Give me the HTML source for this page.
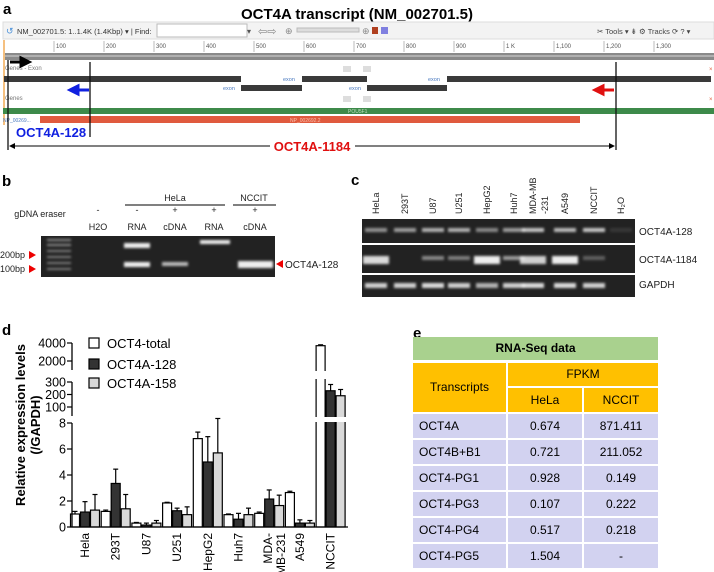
<!DOCTYPE html>
<html><head><meta charset="utf-8"><style>
body{margin:0;background:#fff;font-family:"Liberation Sans",sans-serif}
#root{position:relative;width:714px;height:572px;overflow:hidden}
.abs{position:absolute}
svg text{font-family:"Liberation Sans",sans-serif}
</style></head><body>
<div id="root">
<svg width="714" height="572" style="position:absolute;left:0;top:0">
<defs>
<filter id="bl" x="-20%" y="-50%" width="140%" height="200%"><feGaussianBlur stdDeviation="1.3"/></filter>
</defs>
<!-- Panel a -->
<g>
<text x="3" y="14" font-size="15" font-weight="bold">a</text>
<text x="357" y="19" font-size="15" font-weight="bold" text-anchor="middle">OCT4A transcript (NM_002701.5)</text>
<rect x="3" y="22" width="711" height="17" fill="#f3f3f3" stroke="#ddd"/>
<text x="17" y="34" font-size="7.5" fill="#333">NM_002701.5: 1..1.4K (1.4Kbp) ▾ | Find:</text>
<text x="6" y="34" font-size="9" fill="#4a90d9">↺</text>
<rect x="157" y="24" width="90" height="13" fill="#fff" stroke="#bbb"/>
<text x="247" y="34" font-size="8" fill="#555">▾</text>
<text x="258" y="35" font-size="11" fill="#888">⇦⇨</text>
<text x="285" y="34" font-size="9" fill="#888">⊕</text>
<rect x="297" y="28" width="62" height="4" fill="#ddd" stroke="#bbb"/>
<text x="362" y="34" font-size="9" fill="#888">⊕</text>
<rect x="372" y="27" width="6" height="7" fill="#b04020"/><rect x="381" y="27" width="7" height="7" fill="#8080e0"/>
<text x="597" y="34" font-size="7.5" fill="#444">✂ Tools ▾ ⇟ ⚙ Tracks ⟳ ? ▾</text>
<rect x="3" y="40" width="711" height="13" fill="#fff"/>
<g id="ruler" font-size="6" fill="#555"></g>
<rect x="3" y="53" width="711" height="7" fill="#8a8a8a"/>
<rect x="3" y="55" width="711" height="2" fill="#b0b0b0"/>
<rect x="3" y="40" width="2" height="85" fill="#f5c080"/>
<text x="5" y="70" font-size="6" fill="#777" font-family="Liberation Mono">Genes - Exon</text>
<text x="5" y="100" font-size="6" fill="#777" font-family="Liberation Mono">Genes</text>
<rect x="343" y="66" width="8" height="6" fill="#ddd"/><rect x="363" y="66" width="8" height="6" fill="#ddd"/>
<rect x="343" y="96" width="8" height="6" fill="#ddd"/><rect x="363" y="96" width="8" height="6" fill="#ddd"/>
<text x="709" y="71" font-size="6" fill="#e06040">×</text><text x="709" y="101" font-size="6" fill="#e06040">×</text>
<g fill="#3a3a3a">
<rect x="4" y="76" width="237" height="6"/><rect x="302" y="76" width="65" height="6"/><rect x="447" y="76" width="264" height="6"/>
<rect x="241" y="85" width="61" height="6"/><rect x="367" y="85" width="80" height="6"/>
</g>
<g font-size="5.5" fill="#4a7ac0"><text x="283" y="81">exon</text><text x="428" y="81">exon</text><text x="223" y="90">exon</text><text x="349" y="90">exon</text></g>
<rect x="3" y="108" width="711" height="6" fill="#3d8a4a"/>
<text x="348" y="113" font-size="5" fill="#bfe0c0">POU5F1</text>
<rect x="40" y="116" width="540" height="7" fill="#e05a3e"/>
<text x="290" y="122" font-size="5" fill="#f8c0b0">NP_002692.2</text>
<text x="3" y="122" font-size="5" fill="#4a7ac0">NP_00269...</text>
<g stroke="#111" stroke-width="1.3">
<line x1="8" y1="60" x2="8" y2="150"/><line x1="90" y1="62" x2="90" y2="137"/><line x1="616" y1="62" x2="616" y2="150"/>
</g>
<path d="M10 62 H24 M21 58 L29 62 L21 66 Z" stroke="#000" stroke-width="3" fill="#000"/>
<path d="M89 90 H75 M78 86 L70 90 L78 94 Z" stroke="#1020e0" stroke-width="3" fill="#1020e0"/>
<path d="M614 90 H600 M603 86 L595 90 L603 94 Z" stroke="#e01010" stroke-width="3" fill="#e01010"/>
<text x="16" y="137" font-size="13" font-weight="bold" fill="#1020e0">OCT4A-128</text>
<line x1="10" y1="146" x2="270" y2="146" stroke="#000"/><line x1="355" y1="146" x2="613" y2="146" stroke="#000"/>
<path d="M9 146 l6 -3 v6z M615 146 l-6 -3 v6z" fill="#000"/>
<text x="312" y="151" font-size="13" font-weight="bold" fill="#e01010" text-anchor="middle">OCT4A-1184</text>
</g>
<!-- Panel b -->
<g>
<text x="2" y="186" font-size="15" font-weight="bold">b</text>
<g font-size="9" text-anchor="middle" fill="#222">
<text x="175" y="201">HeLa</text><line x1="125" y1="205" x2="225" y2="205" stroke="#000"/>
<text x="254" y="201">NCCIT</text><line x1="233" y1="205" x2="276" y2="205" stroke="#000"/>
<text x="40" y="217">gDNA eraser</text>
<text x="98" y="213">-</text><text x="137" y="213">-</text><text x="175" y="213">+</text><text x="214" y="213">+</text><text x="255" y="213">+</text>
<text x="98" y="230">H2O</text><text x="137" y="230">RNA</text><text x="175" y="230">cDNA</text><text x="214" y="230">RNA</text><text x="255" y="230">cDNA</text>
</g>
<rect x="41" y="236" width="234" height="41" fill="#222"/>
<g fill="#bbb" filter="url(#bl)">
<rect x="47" y="239" width="24" height="2" opacity=".7"/><rect x="47" y="244" width="24" height="2" opacity=".7"/><rect x="47" y="250" width="24" height="2" opacity=".6"/><rect x="47" y="256" width="24" height="2" opacity=".6"/><rect x="47" y="262" width="24" height="2" opacity=".6"/><rect x="47" y="268" width="24" height="2" opacity=".6"/>
</g>
<g fill="#eee" filter="url(#bl)">
<rect x="124" y="243" width="26" height="5"/><rect x="124" y="262" width="26" height="5"/>
<rect x="162" y="262" width="26" height="4" opacity=".75"/><rect x="200" y="240" width="30" height="4"/>
<rect x="238" y="261" width="35" height="7"/>
</g>
<g font-size="9" fill="#222"><text x="0" y="258">200bp</text><text x="0" y="272">100bp</text><text x="285" y="268" font-size="10">OCT4A-128</text></g>
<path d="M29 251 l7 4 l-7 4z M29 265 l7 4 l-7 4z M283 260 l-7 4 l7 4z" fill="#e00"/>
</g>
<!-- Panel c -->
<g>
<text x="351" y="185" font-size="15" font-weight="bold">c</text>
<g id="clanes" font-size="9" fill="#222"></g>
<rect x="362" y="219" width="273" height="24" fill="#222"/>
<rect x="362" y="245" width="273" height="28" fill="#222"/>
<rect x="362" y="275" width="273" height="22" fill="#222"/>
<g id="cbands" filter="url(#bl)"></g>
<g font-size="10" fill="#222"><text x="639" y="235">OCT4A-128</text><text x="639" y="263">OCT4A-1184</text><text x="639" y="288">GAPDH</text></g>
</g>
<!-- Panel d -->
<g id="pd">
<text x="2" y="335" font-size="15" font-weight="bold">d</text>
<text transform="translate(25,425) rotate(-90)" font-size="13" font-weight="bold" text-anchor="middle">Relative expression levels</text>
<text transform="translate(40,425) rotate(-90)" font-size="13" font-weight="bold" text-anchor="middle">(/GAPDH)</text>
</g>
</svg>
<!-- Panel e -->
<div class="abs" style="left:413px;top:325px;font-size:15px;font-weight:bold">e</div>
<div class="abs" style="left:413px;top:337px;width:245px;height:23px;background:#a9d18e;font-size:12px;font-weight:bold;text-align:center;line-height:23px">RNA-Seq data</div>
<div class="abs" style="left:413px;top:363px;width:93px;height:49px;background:#ffc000;font-size:12px;line-height:49px;text-align:center">Transcripts</div>
<div class="abs" style="left:508px;top:363px;width:150px;height:23px;background:#ffc000;font-size:12px;line-height:23px;text-align:center">FPKM</div>
<div class="abs" style="left:508px;top:388px;width:74px;height:24px;background:#ffc000;font-size:12px;line-height:24px;text-align:center">HeLa</div>
<div class="abs" style="left:584px;top:388px;width:74px;height:24px;background:#ffc000;font-size:12px;line-height:24px;text-align:center">NCCIT</div>
<div id="trows"></div>
</div>
<script>
// ruler
(function(){
 var g=document.getElementById('ruler');var NS='http://www.w3.org/2000/svg';
 var labs=['100','200','300','400','500','600','700','800','900','1 K','1,100','1,200','1,300'];
 labs.forEach(function(l,i){var x=4+50*(i+1);
  var ln=document.createElementNS(NS,'line');ln.setAttribute('x1',x);ln.setAttribute('x2',x);ln.setAttribute('y1',41);ln.setAttribute('y2',52);ln.setAttribute('stroke','#bbb');g.appendChild(ln);
  var t=document.createElementNS(NS,'text');t.setAttribute('x',x+2);t.setAttribute('y',48);t.textContent=l;g.appendChild(t);});
})();
// panel c lanes
var cLanes=['HeLa','293T','U87','U251','HepG2','Huh7','MDA-MB','A549','NCCIT','H₂O'];
var cLaneX=[376,405,433,459,487,514,533,565,594,621];
var band128=[0.55,0.6,0.7,0.7,0.5,0.6,0.8,0.75,0.8,0.1];
var band1184=[0.9,0,0.5,0.45,1,0.6,0.85,1,0.3,0];
var bandGapdh=[0.85,0.85,0.9,0.85,0.7,0.85,0.9,0.9,0.85,0];
(function(){
 var NS='http://www.w3.org/2000/svg';var g=document.getElementById('clanes');var b=document.getElementById('cbands');
 cLanes.forEach(function(l,i){var t=document.createElementNS(NS,'text');
  t.setAttribute('transform','translate('+(cLaneX[i]+3)+',214) rotate(-90)');t.textContent=l;
  
  g.appendChild(t);
  function band(y,h,o,w){if(o<=0)return;var r=document.createElementNS(NS,'rect');r.setAttribute('x',cLaneX[i]-(w||11));r.setAttribute('width',2*(w||11));r.setAttribute('y',y);r.setAttribute('height',h);r.setAttribute('fill','#eee');r.setAttribute('opacity',o);
   
   b.appendChild(r);}
  band(228,4,band128[i]);band(256,band1184[i]>0.8?8:4,band1184[i],band1184[i]>0.8?13:11);band(283,5,bandGapdh[i]);
 });
 var t=document.createElementNS(NS,'text');t.setAttribute('transform','translate(548,214) rotate(-90)');t.textContent='-231';g.appendChild(t);
})();
// panel d
var cats=['Hela','293T','U87','U251','HepG2','Huh7','MDA-MB-231','A549','NCCIT'];
var totalVals=[1.0,1.2,0.3,1.85,6.8,0.95,1.05,2.65,3700];
var a128Vals=[1.15,3.35,0.15,1.25,5.0,0.6,2.15,0.3,230];
var a158Vals=[1.3,1.4,0.3,0.95,5.7,0.95,1.65,0.3,190];
var totalErr=[0.2,0.1,0.05,0.05,0.5,0.05,0.1,0.1,100];
var a128Err=[0.8,1.1,0.15,0.2,1.95,0.45,0.7,0.25,50];
var a158Err=[1.2,1.1,0.2,0.6,2.5,0.5,0.8,0.2,50];
var yTicksLow=[0,2,4,6,8], yTicksMid=[100,200,300], yTicksHigh=[2000,4000];
var legendNames=['OCT4-total','OCT4A-128','OCT4A-158'];
(function(){
 var NS='http://www.w3.org/2000/svg';var g=document.getElementById('pd');
 function y(v){ if(v<=8) return 527-v*13; if(v<=300) return 407-(v-100)*0.125; return 361-(v-2000)*0.009; }
 function x(i){ return 85+i*30.7; }
 function el(tag,at,name){var e=document.createElementNS(NS,tag);for(var k in at)e.setAttribute(k,at[k]);if(name){}g.appendChild(e);return e;}
 var fills=['#fff','#333','#d9d9d9'];var series=[totalVals,a128Vals,a158Vals];var errs=[totalErr,a128Err,a158Err];
 cats.forEach(function(c,i){
  series.forEach(function(s,k){
   var bx=x(i)+(k-1)*10-4.5, top=y(s[i]);
   var et=y(s[i]+errs[k][i]); if(s[i]<=8&&s[i]+errs[k][i]>8) et=y(8.1);
   el('line',{x1:bx+4.5,x2:bx+4.5,y1:top,y2:et,stroke:'#000','stroke-width':1.2},'error-bar');
   el('line',{x1:bx+2,x2:bx+7,y1:et,y2:et,stroke:'#000','stroke-width':1.2},'error-cap');
   el('rect',{x:bx,y:top,width:9,height:527-top,fill:fills[k],stroke:'#000','stroke-width':1.2},'bar-'+c+'-'+legendNames[k]);
  });
  var t=el('text',{transform:'translate('+(x(i)+4)+',533) rotate(-90)','font-size':12,'text-anchor':'end'},'x-tick-label');
  if(c==='MDA-MB-231'){t.textContent='MDA-';var t2=el('text',{transform:'translate('+(x(i)+16)+',533) rotate(-90)','font-size':12,'text-anchor':'end'},'x-tick-label');t2.textContent='MB-231';t.setAttribute('transform','translate('+(x(i)+3)+',533) rotate(-90)');}
  else t.textContent=c;
 });
 el('rect',{x:300,y:371,width:48,height:8,fill:'#fff'});el('rect',{x:300,y:417,width:48,height:5,fill:'#fff'});
 el('line',{x1:72,x2:348,y1:527,y2:527,stroke:'#000','stroke-width':1.3},'x-axis');
 [[423,527],[382,416],[343,370]].forEach(function(s){el('line',{x1:72,x2:72,y1:s[0],y2:s[1],stroke:'#000','stroke-width':1.3},'y-axis-segment');});
 function tick(v){var yy=y(v);el('line',{x1:67,x2:72,y1:yy,y2:yy,stroke:'#000','stroke-width':1.2});var t=el('text',{x:66,y:yy+4.5,'font-size':12.5,'text-anchor':'end'},'y-tick-label');t.textContent=v;}
 yTicksLow.forEach(tick);yTicksMid.forEach(tick);yTicksHigh.forEach(tick);
 legendNames.forEach(function(n,k){var yy=[343,364,383][k];
  el('rect',{x:89,y:yy-5,width:10,height:10,fill:fills[k],stroke:'#000','stroke-width':1.2},'legend-swatch');
  var t=el('text',{x:107,y:yy+5,'font-size':13},'legend-entry');t.textContent=n;});
})();
// table rows
var tNames=['OCT4A','OCT4B+B1','OCT4-PG1','OCT4-PG3','OCT4-PG4','OCT4-PG5'];
var tHela=['0.674','0.721','0.928','0.107','0.517','1.504'];
var tNccit=['871.411','211.052','0.149','0.222','0.218','-'];
(function(){
 var c=document.getElementById('trows');
 tNames.forEach(function(n,i){var top=414+i*26;
  [[413,93,n,'left'],[508,74,tHela[i],'center'],[584,74,tNccit[i],'center']].forEach(function(cl,j){
   var d=document.createElement('div');d.className='abs';
   
   
   d.style.cssText='left:'+cl[0]+'px;top:'+top+'px;width:'+(cl[1]-(j===0?6:0))+'px;height:24px;line-height:24px;background:#d2d2f0;font-size:12px;text-align:'+cl[3]+';padding-left:'+(j===0?6:0)+'px';
   d.textContent=cl[2];c.appendChild(d);});
 });
})();
</script>
</body></html>
